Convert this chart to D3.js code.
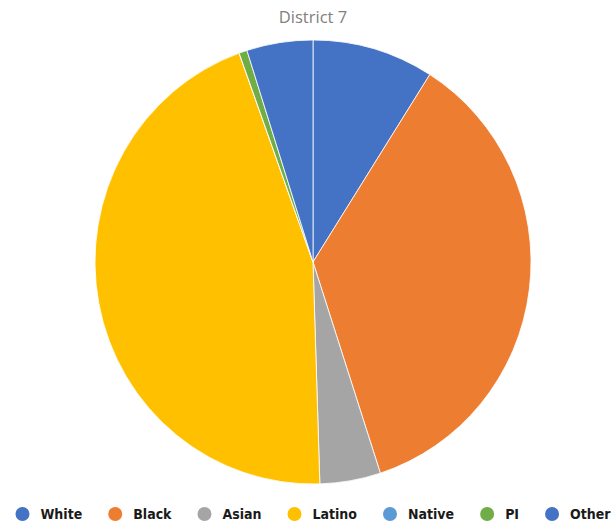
<!DOCTYPE html>
<html>
<head>
<meta charset="utf-8">
<script src="https://cdn.jsdelivr.net/npm/d3@7/dist/d3.min.js"></script>
<style>
  html, body { margin: 0; padding: 0; background: #ffffff; }
  svg { display: block; }
</style>
</head>
<body>
<svg id="chart" width="613" height="523"></svg>
<script>
// District 7 population share by group (percent)
const title = "District 7";
const categories = ["White", "Black", "Asian", "Latino", "Native", "PI", "Other"];
const values = [9.0, 36.0, 4.5, 45.0, 0.0, 0.6, 4.9];
const colors = ["#4472C4", "#ED7D31", "#A5A5A5", "#FFC000", "#5B9BD5", "#70AD47", "#4472C4"];

const W = 613, H = 523;
const cx = 313, cy = 262;
const rx = 218, ry = 222;

const svg = d3.select("#chart");
const data = categories.map((c, i) => ({ name: c, value: values[i], color: colors[i] }));

svg.append("text")
  .attr("x", cx)
  .attr("y", 23)
  .attr("text-anchor", "middle")
  .attr("font-family", "'Open Sans', 'Noto Sans', sans-serif")
  .attr("font-size", 16.5)
  .attr("fill", "#808080")
  .text(title);

const pie = d3.pie().value(d => d.value).sort(null);
const arc = d3.arc().innerRadius(0).outerRadius(rx);

svg.append("g")
  .attr("transform", `translate(${cx},${cy}) scale(1,${ry / rx})`)
  .selectAll("path")
  .data(pie(data))
  .join("path")
  .attr("d", arc)
  .attr("fill", d => d.data.color)
  .attr("stroke", "#ffffff")
  .attr("stroke-width", 0.8)
  .attr("vector-effect", "non-scaling-stroke");

// Legend: marker + label, laid out left to right and centred under the pie
const legend = svg.append("g");
const items = legend.selectAll("g").data(data).join("g");
items.append("circle").attr("r", 7).attr("cy", 0).attr("fill", d => d.color);
const labels = items.append("text")
  .attr("y", 5)
  .attr("font-family", "'DejaVu Sans Condensed', 'DejaVu Sans', sans-serif")
  .attr("font-weight", "bold")
  .attr("font-size", 14)
  .attr("fill", "#1a1a1a")
  .text(d => d.name);

const markerGap = 20, itemGap = 31, markerR = 7;
let x = 0;
const offsets = [];
labels.each(function (d, i) {
  const w = this.getComputedTextLength();
  offsets.push(x);
  x += markerGap + w + itemGap;
});
const total = x - itemGap + markerR;
const startX = cx + 1 - total / 2 + markerR;
items.each(function (d, i) {
  const g = d3.select(this);
  g.attr("transform", `translate(${startX + offsets[i]},514)`);
  g.select("text").attr("x", markerGap - 2);
});
</script>
</body>
</html>
